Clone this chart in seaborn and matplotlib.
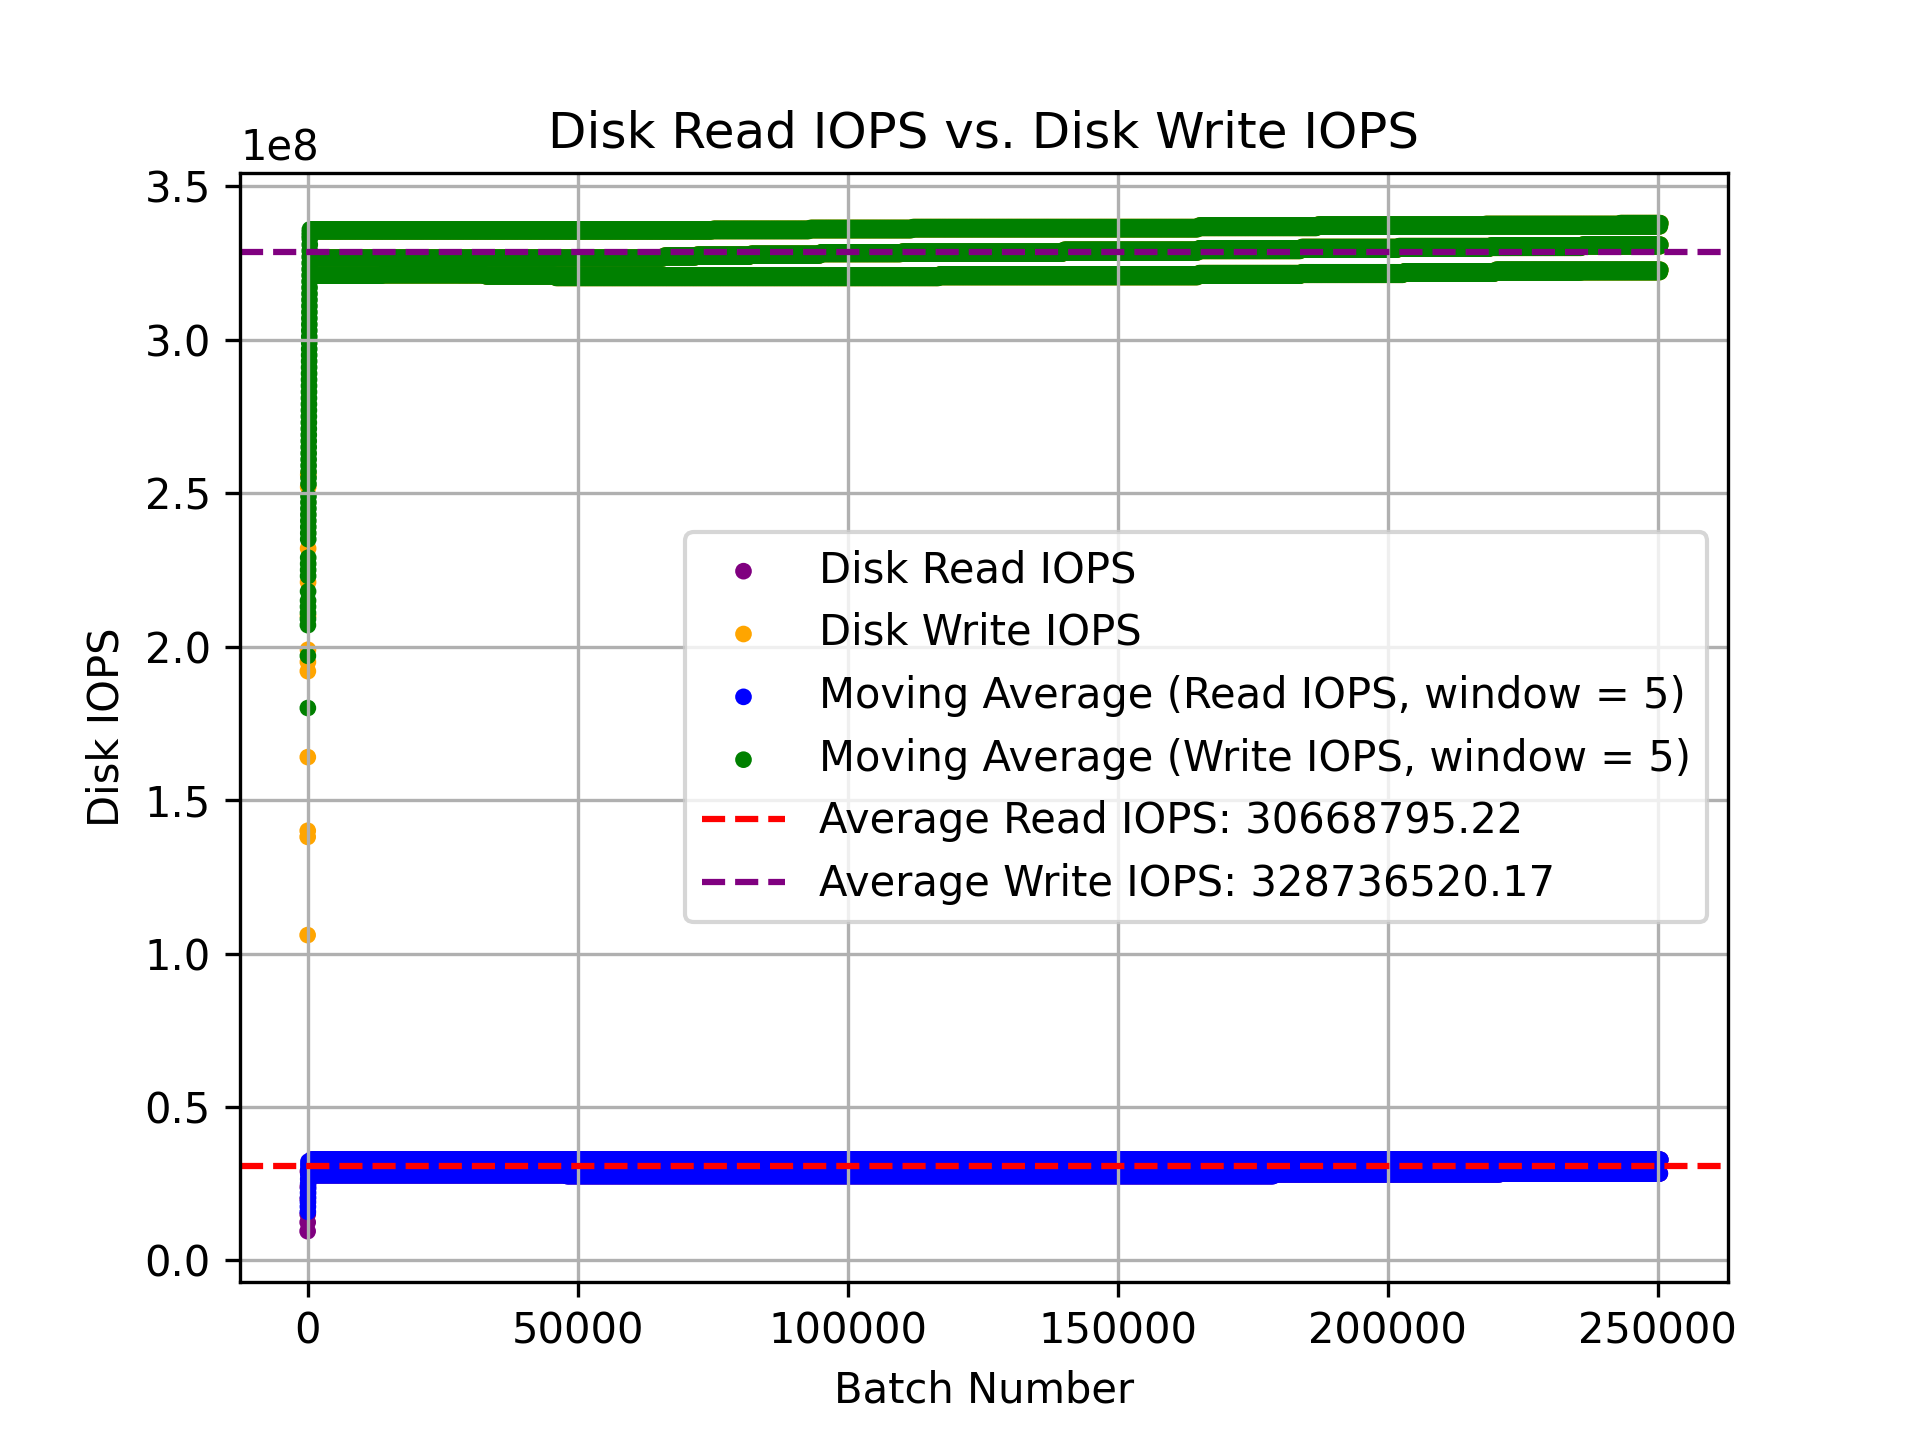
import numpy as np
import pandas as pd
import matplotlib
matplotlib.use("Agg")
import matplotlib.pyplot as plt
import seaborn as sns

# ---- values ----
# start-up batches (all sit at the very left, batch ~0..500)
read_head_raw = [0.095e8, 0.124e8, 0.150e8, 0.200e8, 0.240e8, 0.290e8]
read_head_ma = [0.158e8, 0.175e8, 0.190e8, 0.205e8, 0.220e8, 0.235e8, 0.250e8,
                0.265e8, 0.280e8, 0.295e8, 0.310e8, 0.322e8]
write_head_raw = [1.06e8, 1.38e8, 1.40e8, 1.64e8, 1.92e8, 1.95e8, 1.99e8,
                  2.10e8, 2.21e8, 2.32e8, 2.52e8, 2.56e8]
write_head_ma = [1.80e8, 1.97e8, 2.07e8, 2.09e8, 2.11e8, 2.13e8, 2.15e8, 2.18e8,
                 2.23e8, 2.25e8, 2.27e8, 2.29e8, 2.35e8, 2.37e8, 2.39e8, 2.41e8,
                 2.43e8, 2.45e8, 2.47e8, 2.49e8, 2.53e8, 2.55e8, 2.57e8, 2.59e8,
                 2.61e8, 2.63e8, 2.65e8, 2.67e8, 2.69e8, 2.71e8, 2.73e8, 2.75e8,
                 2.77e8, 2.79e8, 2.81e8, 2.83e8, 2.85e8, 2.87e8, 2.89e8, 2.91e8,
                 2.93e8, 2.95e8, 2.97e8, 2.99e8, 3.01e8, 3.03e8, 3.05e8, 3.07e8,
                 3.09e8, 3.11e8, 3.13e8, 3.15e8, 3.17e8, 3.19e8, 3.21e8, 3.23e8,
                 3.25e8, 3.27e8, 3.29e8, 3.31e8, 3.33e8, 3.34e8, 3.35e8, 3.36e8]

# steady state: segment start batch, lowest / highest level in that segment
read_start = [0, 48000, 179000, 221000]
read_lo = [0.278e8, 0.275e8, 0.281e8, 0.283e8]
read_hi = [0.328e8, 0.328e8, 0.328e8, 0.328e8]

write_a_start = [0, 75000, 93000, 112000, 165000, 187000, 218000, 243000]
write_a_lo = [3.354e8, 3.355e8, 3.358e8, 3.361e8, 3.365e8, 3.369e8, 3.370e8, 3.370e8]
write_a_hi = [3.359e8, 3.361e8, 3.364e8, 3.367e8, 3.372e8, 3.375e8, 3.377e8, 3.380e8]

write_b_start = [0, 66000, 72000, 82000, 95000, 110000, 140000, 165000,
                 184000, 202000, 219000, 236000]
write_b_lo = [3.267e8, 3.269e8, 3.271e8, 3.275e8, 3.280e8, 3.281e8, 3.285e8,
              3.290e8, 3.294e8, 3.297e8, 3.300e8, 3.305e8]
write_b_hi = [3.266e8, 3.274e8, 3.277e8, 3.280e8, 3.285e8, 3.287e8, 3.293e8,
              3.298e8, 3.302e8, 3.305e8, 3.307e8, 3.310e8]

write_c_start = [0, 14000, 28000, 33000, 46000, 66000, 117000, 165000,
                 184000, 203000, 220000, 236000]
write_c_lo = [3.210e8, 3.215e8, 3.212e8, 3.207e8, 3.202e8, 3.202e8, 3.205e8,
              3.209e8, 3.212e8, 3.216e8, 3.220e8, 3.221e8]
write_c_hi = [3.211e8, 3.211e8, 3.211e8, 3.211e8, 3.210e8, 3.209e8, 3.213e8,
              3.217e8, 3.220e8, 3.223e8, 3.228e8, 3.228e8]

avg_read = 30668795.22
avg_write = 328736520.17
last_batch = 250500


def band(starts, lo, hi, batches):
    # step levels per segment, alternating between low and high level
    idx = np.searchsorted(starts, batches, side="right") - 1
    lo = np.asarray(lo)[idx]
    hi = np.asarray(hi)[idx]
    return np.where(np.arange(len(batches)) % 2 == 0, lo, hi)


steady = np.arange(600, last_batch + 1, 100)

read_raw = pd.DataFrame({
    "batch": np.concatenate([np.arange(len(read_head_raw)) * 10, steady]),
    "iops": np.concatenate([read_head_raw, band(read_start, read_lo, read_hi, steady)]),
})
read_ma = pd.DataFrame({
    "batch": np.concatenate([np.arange(len(read_head_ma)) * 10 + 40, steady]),
    "iops": np.concatenate([read_head_ma, band(read_start, read_lo, read_hi, steady)]),
})

write_steady = np.concatenate([
    band(write_a_start, write_a_lo, write_a_hi, steady),
    band(write_b_start, write_b_lo, write_b_hi, steady),
    band(write_c_start, write_c_lo, write_c_hi, steady),
])
write_raw = pd.DataFrame({
    "batch": np.concatenate([np.arange(len(write_head_raw)) * 10, np.tile(steady, 3)]),
    "iops": np.concatenate([write_head_raw, write_steady]),
})
write_ma = pd.DataFrame({
    "batch": np.concatenate([np.arange(len(write_head_ma)) * 6 + 40, np.tile(steady, 3)]),
    "iops": np.concatenate([write_head_ma, write_steady]),
})

# ---- plot ----
fig, ax = plt.subplots(figsize=(6.4, 4.8), dpi=300)
kw = dict(s=16, linewidth=0, edgecolor="none", ax=ax)
sns.scatterplot(data=read_raw, x="batch", y="iops", color="purple", label="Disk Read IOPS", **kw)
sns.scatterplot(data=write_raw, x="batch", y="iops", color="orange", label="Disk Write IOPS", **kw)
sns.scatterplot(data=read_ma, x="batch", y="iops", color="blue",
                label="Moving Average (Read IOPS, window = 5)", **kw)
sns.scatterplot(data=write_ma, x="batch", y="iops", color="green",
                label="Moving Average (Write IOPS, window = 5)", **kw)
ax.axhline(avg_read, color="red", linestyle="--", label=f"Average Read IOPS: {avg_read:.2f}")
ax.axhline(avg_write, color="purple", linestyle="--", label=f"Average Write IOPS: {avg_write:.2f}")

ax.set_title("Disk Read IOPS vs. Disk Write IOPS")
ax.set_xlabel("Batch Number")
ax.set_ylabel("Disk IOPS")
ax.grid(True)
ax.legend(loc="center right")

fig.savefig("out.png", dpi=300)
